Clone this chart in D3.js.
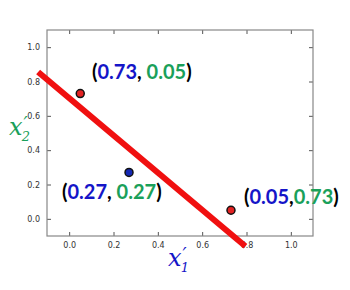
<!DOCTYPE html>
<meta charset="utf-8">
<style>
body { margin: 0; background: #fff; }
.tick text { font-family: "DejaVu Sans", sans-serif; font-size: 8px; fill: #333; }
.lbl { font-family: Lato, "Open Sans", sans-serif; font-weight: bold; font-size: 20px; }
.axlbl { font-family: "DejaVu Serif", serif; font-style: italic; }
</style>
<body>
<script src="https://d3js.org/d3.v7.min.js"></script>
<script>
// points (x1', x2')
var pointX = [0.05, 0.27, 0.73],
    pointY = [0.73, 0.27, 0.05],
    pointColor = ["#e32222", "#1428b4", "#e32222"];
// labels (first value blue, second green)
var labelA = ["0.73", "0.27", "0.05"],
    labelB = ["0.05", "0.27", "0.73"],
    labelSep = [", ", ", ", ","];
// decision line end points
var lineX = [-0.14, 0.795],
    lineY = [0.855, -0.16];
var ticks = [0.0, 0.2, 0.4, 0.6, 0.8, 1.0];

var w = 350, h = 290,
    margin = {top: 30, right: 37, bottom: 54, left: 47},
    width = w - margin.left - margin.right,
    height = h - margin.top - margin.bottom;

var svg = d3.select("body").append("svg").attr("width", w).attr("height", h);
var g = svg.append("g").attr("transform", "translate(" + margin.left + "," + margin.top + ")");

var x = d3.scaleLinear().domain([-0.1, 1.1]).range([0, width]),
    y = d3.scaleLinear().domain([-0.1, 1.1]).range([height, 0]);

var fmt = d3.format(".1f");
function styleAxis(a) {
  a.select(".domain").remove();
  a.selectAll(".tick line").attr("stroke", "#555");
}
g.append("g").attr("transform", "translate(0," + height + ")")
  .call(d3.axisBottom(x).tickValues(ticks).tickFormat(fmt).tickSizeInner(-4).tickPadding(6)).call(styleAxis);
g.append("g")
  .call(d3.axisTop(x).tickValues(ticks).tickFormat("").tickSizeInner(-4)).call(styleAxis);
g.append("g")
  .call(d3.axisLeft(y).tickValues(ticks).tickFormat(fmt).tickSizeInner(-4).tickPadding(7)).call(styleAxis);
g.append("g").attr("transform", "translate(" + width + ",0)")
  .call(d3.axisRight(y).tickValues(ticks).tickFormat("").tickSizeInner(-4)).call(styleAxis);

g.append("rect").attr("width", width).attr("height", height)
  .attr("fill", "none").attr("stroke", "#888").attr("stroke-width", 1.2);

// line (not clipped)
g.append("line")
  .attr("x1", x(lineX[0])).attr("y1", y(lineY[0]))
  .attr("x2", x(lineX[1])).attr("y2", y(lineY[1]))
  .attr("stroke", "#f01010").attr("stroke-width", 6);

g.selectAll(".pt").data(pointX).enter().append("circle")
  .attr("cx", function(d) { return x(d); })
  .attr("cy", function(d, i) { return y(pointY[i]); })
  .attr("r", 4)
  .attr("fill", function(d, i) { return pointColor[i]; })
  .attr("stroke", "#111").attr("stroke-width", 1.5);

var labelPos = [[92, 79], [62, 199], [244, 204]];
labelA.forEach(function(a, i) {
  var t = svg.append("text").attr("class", "lbl")
    .attr("x", labelPos[i][0]).attr("y", labelPos[i][1]);
  t.append("tspan").attr("fill", "#000").text("(");
  t.append("tspan").attr("fill", "#1515c8").text(a);
  t.append("tspan").attr("fill", "#000").text(labelSep[i]);
  t.append("tspan").attr("fill", "#1aa05a").text(labelB[i]);
  t.append("tspan").attr("fill", "#000").text(")");
});

// axis labels: x with prime above and subscript below
function axLabel(px, py, sub, color) {
  var t = svg.append("text").attr("class", "axlbl").attr("x", px).attr("y", py)
    .attr("fill", color);
  t.append("tspan").attr("font-size", 24).text("x");
  t.append("tspan").attr("font-size", 18).attr("dx", 1).attr("dy", -5).text("′");
  t.append("tspan").attr("font-size", 13).attr("dx", -6).attr("dy", 11).text(sub);
}
axLabel(168, 266, "1", "#1515c8");
axLabel(9, 135, "2", "#1aa05a");
</script>
</body>
